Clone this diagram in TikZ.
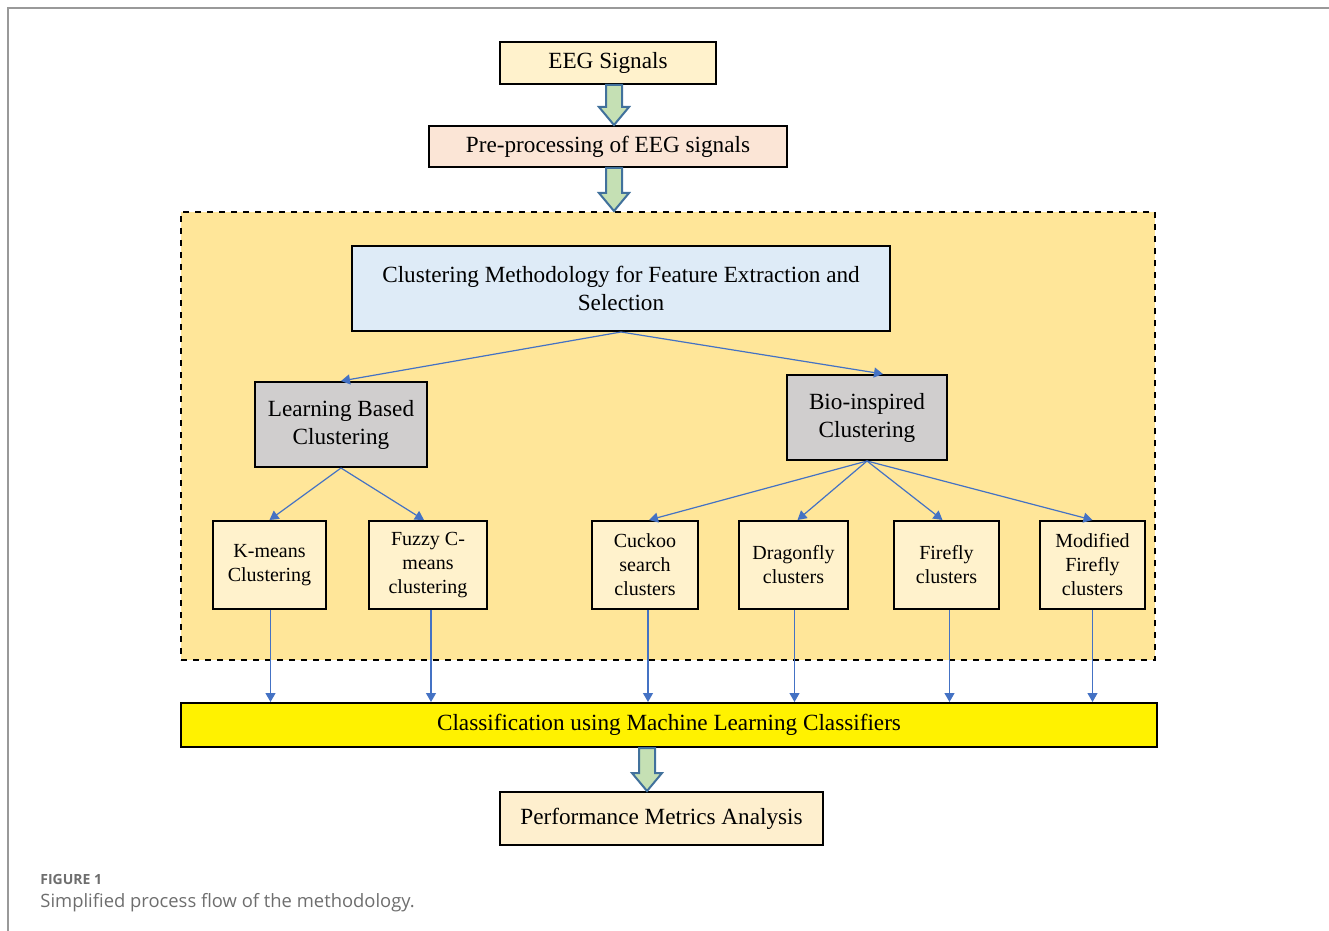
\documentclass[tikz,border=0pt]{standalone}
\usepackage{fontspec}
\setmainfont{Liberation Serif}
\newfontfamily\capfont{Open Sans}
\usetikzlibrary{positioning, arrows.meta, calc}
\definecolor{boxyellow}{HTML}{FFF2CC}
\definecolor{boxsalmon}{HTML}{FBE5D6}
\definecolor{boxblue}{HTML}{DEEBF7}
\definecolor{boxgrey}{HTML}{D0CECE}
\definecolor{regiongold}{HTML}{FFE699}
\definecolor{arrowgreen}{HTML}{C5E0B4}
\definecolor{arrowedge}{HTML}{41719C}
\definecolor{linkblue}{HTML}{4472C4}
\definecolor{capgrey}{HTML}{6E6E6E}
\newcommand{\fatarrow}[2]{%
\filldraw[fat] ($(#1)+(-8,0)$) -- ($(#2)+(-8,-18)$) -- ($(#2)+(-15,-18)$) -- (#2)
  -- ($(#2)+(15,-18)$) -- ($(#2)+(8,-18)$) -- ($(#1)+(8,0)$) -- cycle;}

\begin{document}
\begin{tikzpicture}[x=0.5pt, y=-0.5pt,
  box/.style={draw=black, line width=1pt, align=center, inner sep=2pt},
  big/.style={box, font=\fontsize{11.6}{14}\selectfont},
  small/.style={box, fill=boxyellow, minimum height=44pt, font=\fontsize{10}{12}\selectfont},
  link/.style={draw=linkblue, line width=0.6pt, -{Triangle[width=5pt,length=4.5pt,fill=linkblue]}},
  fat/.style={fill=arrowgreen, draw=arrowedge, line width=1pt}]
\useasboundingbox (0,0) rectangle (1329,931);
\draw [gray!80, line width=1pt] (8,931) -- (8,8) -- (1329,8);
% dashed region
\node [draw=black, dashed, line width=1pt, fill=regiongold, minimum width=487pt, minimum height=224pt] (region) at (668,436) {};
% top of the flow
\node [big, fill=boxyellow, minimum width=108pt, minimum height=21pt] (eeg) at (608,63) {EEG Signals};
\node [big, fill=boxsalmon, minimum width=179pt, minimum height=20.5pt] (pre) at (608,146.5) {Pre-processing of EEG signals};
\coordinate (a1) at (614,0);
\fatarrow{eeg.south -| a1}{pre.north -| a1}
\fatarrow{pre.south -| a1}{region.north -| a1}
% clustering
\node [big, fill=boxblue, minimum width=269pt, minimum height=42.5pt] (cm) at (621,288.5) {Clustering Methodology for Feature Extraction and\\Selection};
\node [big, fill=boxgrey, minimum width=86pt, minimum height=42.5pt] (lbc) at (341,424.5) {Learning Based\\Clustering};
\node [big, fill=boxgrey, minimum width=80pt, minimum height=42.5pt] (bio) at (867,417.5) {Bio-inspired\\Clustering};
\node [small, minimum width=56.5pt] (kmeans) at (269.5,565) {K-means\\Clustering};
\node [small, minimum width=59pt] (fuzzy) at (428,565) {Fuzzy C-\\means\\clustering};
\node [small, minimum width=53pt] (cuckoo) at (645,565) {Cuckoo\\search\\clusters};
\node [small, minimum width=54.5pt] (dragon) at (793.5,565) {Dragonfly\\clusters};
\node [small, minimum width=52.5pt] (firefly) at (946.5,565) {Firefly\\clusters};
\node [small, minimum width=52.5pt] (modff) at (1092.5,565) {Modified\\Firefly\\clusters};
\draw [link] (cm.south) -- (lbc.north);
\draw [link] (cm.south) -- ([xshift=8pt]bio.north);
\draw [link] (lbc.south) -- (kmeans.north);
\draw [link] (lbc.south) -- ([xshift=-2pt]fuzzy.north);
\draw [link] (bio.south) -- ([xshift=2pt]cuckoo.north);
\draw [link] (bio.south) -- ([xshift=2pt]dragon.north);
\draw [link] (bio.south) -- ([xshift=-2pt]firefly.north);
\draw [link] (bio.south) -- (modff.north);
% classification
\node [big, fill=yellow, minimum width=488pt, minimum height=22pt] (cls) at (669,725) {Classification using Machine Learning Classifiers};
\foreach \b/\dx in {kmeans/0.5, fuzzy/1.5, cuckoo/1.5, dragon/0.5, firefly/1.5, modff/0}
  \draw [link] ([xshift=\dx pt]\b.south) -- ([xshift=\dx pt]\b.south |- cls.north);
\node [big, fill=boxyellow!80!boxsalmon, minimum width=161.5pt, minimum height=26.5pt] (perf) at (661.5,818.5) {Performance Metrics Analysis};
\coordinate (a3) at (647,0);
\fatarrow{cls.south -| a3}{perf.north -| a3}
% caption
\node [anchor=base west, inner sep=0pt, text=capgrey, font=\capfont\bfseries\fontsize{7}{8}\selectfont] (fig) at (40,884) {FIGURE 1};
\node [anchor=base west, inner sep=0pt, text=capgrey, font=\capfont\fontsize{9.2}{11}\selectfont] (cap) at (40,907) {Simplified process flow of the methodology.};
\end{tikzpicture}
\end{document}
